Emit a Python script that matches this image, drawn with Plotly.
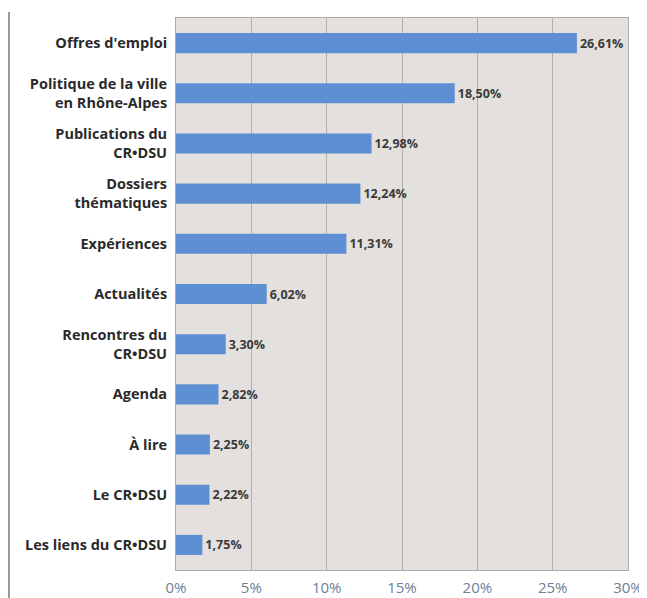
import plotly.graph_objects as go

categories = ["Offres d'emploi", "Politique de la ville<br>en Rhône-Alpes", "Publications du<br>CR•DSU",
              "Dossiers<br>thématiques", "Expériences", "Actualités", "Rencontres du<br>CR•DSU",
              "Agenda", "À lire", "Le CR•DSU", "Les liens du CR•DSU"]
values = [26.61, 18.50, 12.98, 12.24, 11.31, 6.02, 3.30, 2.82, 2.25, 2.22, 1.75]
value_labels = ["26,61%", "18,50%", "12,98%", "12,24%", "11,31%", "6,02%", "3,30%", "2,82%", "2,25%", "2,22%", "1,75%"]
tick_vals = [0, 5, 10, 15, 20, 25, 30]
tick_text = ["0%", "5%", "10%", "15%", "20%", "25%", "30%"]

fig = go.Figure(go.Bar(
    x=values, y=categories, orientation="h",
    marker=dict(color="#5e8fd2", line=dict(width=0)),
    width=0.4,
    text=value_labels, textposition="outside",
    textfont=dict(family="Open Sans", size=12.5, color="#3a3a3a", weight="bold"),
    cliponaxis=False,
))
fig.update_layout(
    width=639, height=590,
    margin=dict(l=168, r=19, t=10, b=28),
    paper_bgcolor="white", plot_bgcolor="#e3e0dd",
    showlegend=False,
    font=dict(family="Open Sans"),
    xaxis=dict(range=[0, 30], tickvals=tick_vals, ticktext=tick_text, automargin=False,
               showgrid=True, gridcolor="#b3afab", gridwidth=1,
               tickfont=dict(size=15, color="#6b7f99"), ticks="", zeroline=False,
               showline=True, linecolor="#aeaaa6", mirror=True, ticklabelstandoff=4),
    yaxis=dict(autorange="reversed", automargin=False,
               tickfont=dict(size=14.5, color="#2a2a2a", weight="bold"),
               ticks="", showgrid=False, showline=True, linecolor="#aeaaa6", mirror=True,
               ticklabelstandoff=5),
)
fig.add_shape(type="line", xref="paper", yref="paper", x0=-167/452, x1=-167/452, y0=1.011, y1=-0.06,
              line=dict(color="#777", width=1.5))
fig.write_html("out.html")
